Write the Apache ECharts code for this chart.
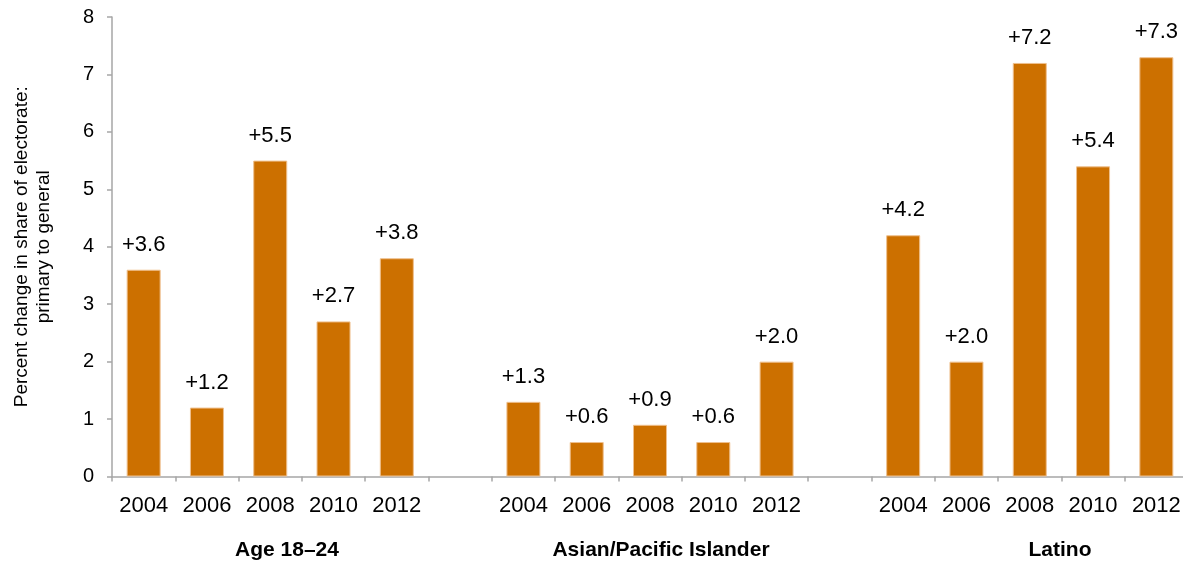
<!DOCTYPE html>
<html>
<head>
<meta charset="utf-8">
<script src="https://cdn.jsdelivr.net/npm/echarts@6/dist/echarts.min.js"></script>
<style>
  html, body { margin: 0; padding: 0; background: #fff; }
  #chart { width: 1183px; height: 562px; }
</style>
</head>
<body>
<div id="chart"></div>
<script>
// Election years shown within each group
const years = ['2004', '2006', '2008', '2010', '2012'];
// Group names printed under the year labels
const groups = ['Age 18–24', 'Asian/Pacific Islander', 'Latino'];
// Percent change in share of electorate, primary to general
const ageValues = [3.6, 1.2, 5.5, 2.7, 3.8];
const asianValues = [1.3, 0.6, 0.9, 0.6, 2.0];
const latinoValues = [4.2, 2.0, 7.2, 5.4, 7.3];
// Y-axis ticks
const yTicks = [0, 1, 2, 3, 4, 5, 6, 7, 8];

// One category per bar, with an empty slot between groups
const groupValues = [ageValues, asianValues, latinoValues];
const categories = [];
const values = [];
groupValues.forEach((vals, gi) => {
  years.forEach((y, i) => { categories.push(y); values.push(vals[i]); });
  if (gi < groupValues.length - 1) { categories.push(''); values.push('-'); }
});

const font = 'Arial, "Liberation Sans", sans-serif';
const axisGray = '#a6a6a6';

const chart = echarts.init(document.getElementById('chart'), null, { renderer: 'canvas' });
chart.setOption({
  animation: false,
  grid: {
    left: 112, top: 17, width: 1076, bottom: 85.5,
    containLabel: false,
    outerBoundsMode: 'none'
  },
  xAxis: {
    type: 'category',
    data: categories,
    boundaryGap: true,
    axisLine: { lineStyle: { color: axisGray, width: 1.5 } },
    axisTick: { show: true, length: 5, lineStyle: { color: axisGray, width: 1.5 } },
    axisLabel: { color: '#000', fontSize: 22, fontFamily: font, margin: 18, interval: 0 },
    splitLine: { show: false }
  },
  yAxis: {
    type: 'value',
    min: yTicks[0],
    max: yTicks[yTicks.length - 1],
    interval: 1,
    name: 'Percent change in share of electorate:\nprimary to general',
    nameLocation: 'middle',
    nameGap: 57,
    nameTextStyle: { color: '#000', fontSize: 19, fontFamily: font, lineHeight: 22 },
    axisLine: { show: true, lineStyle: { color: axisGray, width: 1.5 } },
    axisTick: { show: true, length: 5, lineStyle: { color: axisGray, width: 1.5 } },
    axisLabel: { color: '#000', fontSize: 20, fontFamily: font, margin: 18 },
    splitLine: { show: false }
  },
  series: [{
    type: 'bar',
    data: values,
    barWidth: 34,
    itemStyle: { color: '#CC7000', borderColor: '#EFC08E', borderWidth: 1 },
    label: {
      show: true,
      position: 'top',
      distance: 14,
      color: '#000',
      fontSize: 22,
      fontFamily: font,
      formatter: p => '+' + Number(p.value).toFixed(1)
    }
  }],
  graphic: groups.map((g, i) => ({
    type: 'text',
    x: [287, 661, 1060][i],
    y: 550,
    style: {
      text: g,
      align: 'center',
      verticalAlign: 'middle',
      fill: '#000',
      font: 'bold 21px Arial, "Liberation Sans", sans-serif'
    }
  }))
});
</script>
</body>
</html>
